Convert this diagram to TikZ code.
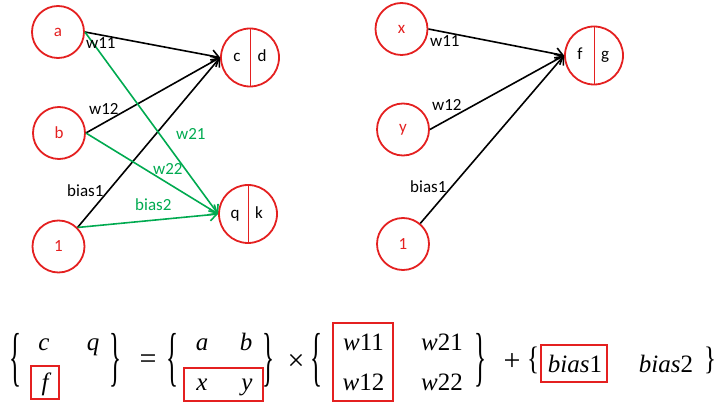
\RequirePackage{fix-cm}
\documentclass[tikz,border=0pt]{standalone}
\usepackage{fontspec}
\usepackage{graphicx}
\setmainfont{Carlito}
\newfontfamily\eqfont{Liberation Serif}
\usetikzlibrary{arrows.meta}
\definecolor{cred}{RGB}{228,32,32}
\definecolor{cgreen}{RGB}{0,170,80}
\newcommand{\bigL}[1]{\scalebox{1.0}[#1]{\eqfont\fontsize{25}{30}\selectfont\{}}
\newcommand{\bigR}[1]{\scalebox{1.0}[#1]{\eqfont\fontsize{25}{30}\selectfont\}}}
\begin{document}
\begin{tikzpicture}[x=1pt,y=-1pt,
  inp/.style={circle,draw=cred,line width=1.8pt,minimum size=52pt,inner sep=0pt,text=cred,font=\fontsize{17}{20}\selectfont},
  outp/.style={circle,draw=cred,line width=1.8pt,minimum size=58pt,inner sep=0pt},
  divider/.style={draw=cred,line width=0.7pt},
  lbl/.style={font=\fontsize{17}{20}\selectfont,inner sep=0pt,anchor=base west},
  inlbl/.style={font=\fontsize{17}{20}\selectfont,inner sep=0pt,anchor=base},
  conn/.style={line width=1.6pt,-{Straight Barb[length=7pt,width=12pt,line width=1.6pt]}},
  blk/.style={conn,black},
  grn/.style={conn,cgreen},
  eq/.style={font=\eqfont\fontsize{25}{30}\selectfont,inner sep=0pt,anchor=base},
  op/.style={font=\eqfont\fontsize{30}{34}\selectfont,inner sep=0pt},
  br/.style={inner sep=0pt},
  hl/.style={draw=cred,line width=1.5pt}
]
\useasboundingbox (0,0) rectangle (720,403);

% ---- left network ----
\node[inp] (a) at (58,32) {a};
\node[inp] (b) at (59,133) {b};
\node[inp] (one) at (58.5,246.5) {1};
\node[outp] (cd) at (250,57.5) {};
\node[outp] (qk) at (248,214) {};
\draw[divider] (cd.north) -- (cd.south);
\draw[divider] (qk.north) -- (qk.south);
\node[inlbl] (tc) at (237,62) {c};
\node[inlbl] (td) at (262,62) {d};
\node[inlbl] (tq) at (235,218.5) {q};
\node[inlbl] (tk) at (259,218.5) {k};

\draw[blk] (a.east) -- (cd.west);
\draw[blk] (b.east) -- (cd.west);
\draw[blk] (one.45) -- (cd.west);
\draw[grn] (a.east) -- (qk.west);
\draw[grn] (b.east) -- (qk.west);
\draw[grn] (one.45) -- (qk.west);

\node[lbl] (l1) at (86,49) {w11};
\node[lbl] (l2) at (89,115) {w12};
\node[lbl] (l3) at (67,197) {bias1};
\node[lbl,text=cgreen] (l4) at (176,140) {w21};
\node[lbl,text=cgreen] (l5) at (153,175) {w22};
\node[lbl,text=cgreen] (l6) at (135,211) {bias2};

% ---- right network ----
\node[inp] (x) at (401.5,29) {x};
\node[inp] (y) at (403,129.5) {y};
\node[inp] (one2) at (403,244) {1};
\node[outp] (fg) at (594,55.5) {};
\draw[divider] (fg.north) -- (fg.south);
\node[inlbl] (tf) at (580,60) {f};
\node[inlbl] (tg) at (605,60) {g};

\draw[blk] (x.east) -- (fg.west);
\draw[blk] (y.east) -- (fg.west);
\draw[blk] (one2.50) -- (fg.west);

\node[lbl] (r1) at (430,47) {w11};
\node[lbl] (r2) at (432,111) {w12};
\node[lbl] (r3) at (410,193) {bias1};

% ---- equation ----
\node[br] (b1l) at (15,360.5) {\bigL{2.6}};
\node[br] (b1r) at (115,360.5) {\bigR{2.6}};
\node[eq] (ec) at (44,350) {\itshape c};
\node[eq] (eq) at (93,350) {\itshape q};
\node[eq] (ef) at (45,390) {\itshape f};
\node[op] (eeq) at (148,362) {=};
\node[br] (b2l) at (172,360.5) {\bigL{2.6}};
\node[br] (b2r) at (268,360.5) {\bigR{2.6}};
\node[eq] (ea) at (202,350) {\itshape a};
\node[eq] (eb) at (246,350) {\itshape b};
\node[eq] (ex) at (202,390) {\itshape x};
\node[eq] (ey) at (247,390) {\itshape y};
\node[op] (etimes) at (296,362) {×};
\node[br] (b3l) at (316,360.5) {\bigL{2.6}};
\node[br] (b3r) at (480,360.5) {\bigR{2.6}};
\node[eq] (ew11) at (363.5,350) {{\itshape w}11};
\node[eq] (ew12) at (363.5,390) {{\itshape w}12};
\node[eq] (ew21) at (442,350) {{\itshape w}21};
\node[eq] (ew22) at (442,390) {{\itshape w}22};
\node[op] (eplus) at (512,362) {+};
\node[br] (b4l) at (533,360) {\bigL{1.3}};
\node[br] (b4r) at (710,360) {\bigR{1.3}};
\node[eq] (ebias1) at (575,372) {{\itshape bias}1};
\node[eq] (ebias2) at (666,372) {{\itshape bias}2};

\draw[hl] (31,366) rectangle (59,399);
\draw[hl] (184,368) rectangle (263,401);
\draw[hl] (333,323) rectangle (393,401);
\draw[hl] (541,345) rectangle (607,382);
\end{tikzpicture}
\end{document}
